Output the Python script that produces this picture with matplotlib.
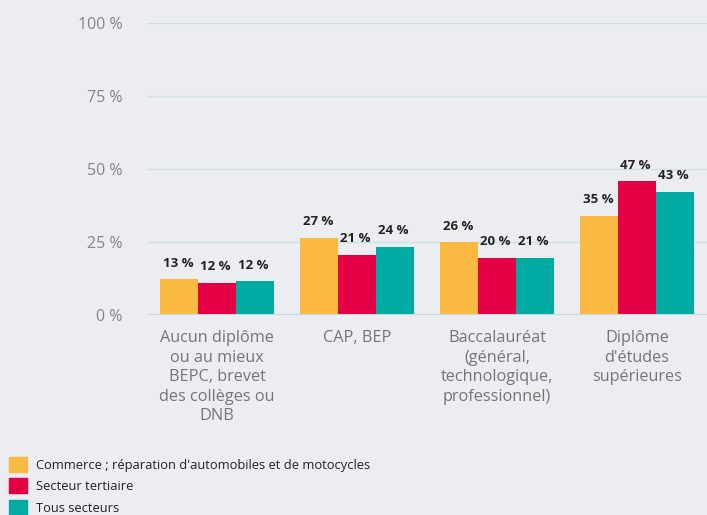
import numpy as np
import matplotlib.pyplot as plt
from matplotlib.patches import Patch

plt.rcParams['font.family'] = ['Open Sans', 'DejaVu Sans']

categories = ["Aucun diplôme\nou au mieux\nBEPC, brevet\ndes collèges ou\nDNB",
              "CAP, BEP",
              "Baccalauréat\n(général,\ntechnologique,\nprofessionnel)",
              "Diplôme\nd'études\nsupérieures"]
series = ["Commerce ; réparation d'automobiles et de motocycles",
          "Secteur tertiaire",
          "Tous secteurs"]
# bar heights
commerce = [12.2, 26.4, 24.9, 34.0]
tertiaire = [11.1, 20.7, 19.7, 45.7]
tous = [11.6, 23.4, 19.7, 42.2]
# printed labels
commerce_lbl = ["13 %", "27 %", "26 %", "35 %"]
tertiaire_lbl = ["12 %", "21 %", "20 %", "47 %"]
tous_lbl = ["12 %", "24 %", "21 %", "43 %"]
yticks = [0, 25, 50, 75, 100]

colors = ["#f9b942", "#e30045", "#00aba4"]
bg = "#ecedf0"

fig = plt.figure(figsize=(7.07, 5.15), dpi=100, facecolor=bg)
ax = fig.add_axes([0.208, 0.388, 0.792, 0.568], facecolor=bg)

x = np.arange(len(categories))
w = 0.27
vals = [commerce, tertiaire, tous]
lbls = [commerce_lbl, tertiaire_lbl, tous_lbl]
for i in range(3):
    xs = x + (i - 1) * w
    ax.bar(xs, vals[i], width=w, color=colors[i], zorder=3)
    for xx, v, t in zip(xs, vals[i], lbls[i]):
        ax.annotate(t, (xx, v), xytext=(-1, 7), textcoords="offset points",
                    ha="center", va="bottom", fontsize=9.5, fontweight="bold",
                    color="#222222")

ax.set_xlim(-0.5, len(categories) - 0.5)
ax.set_ylim(0, 100)
ax.set_yticks(yticks)
ax.set_yticklabels([f"{t} %" for t in yticks])
ax.grid(axis="y", color="#c9e2e6", linewidth=1, zorder=0)
ax.axhline(0, color="#c7d8e4", linewidth=1.5, zorder=4)
for s in ax.spines.values():
    s.set_visible(False)
ax.tick_params(axis="y", length=0, pad=17.5, labelsize=11.5, labelcolor="#858585")
ax.tick_params(axis="x", length=0, pad=11, labelsize=11.7, labelcolor="#757575")
ax.set_xticks(x)
ax.set_xticklabels(categories, linespacing=1.29, va="top")

handles = [Patch(color=c) for c in colors]
fig.legend(handles, series, loc="upper left", bbox_to_anchor=(0.0, 0.13),
           frameon=False, fontsize=9.3, handlelength=1.4, handleheight=1.4,
           handletextpad=0.7, labelspacing=0.5, borderaxespad=0.3,
           labelcolor="#222222")

fig.savefig("out.png", dpi=100, facecolor=bg)
